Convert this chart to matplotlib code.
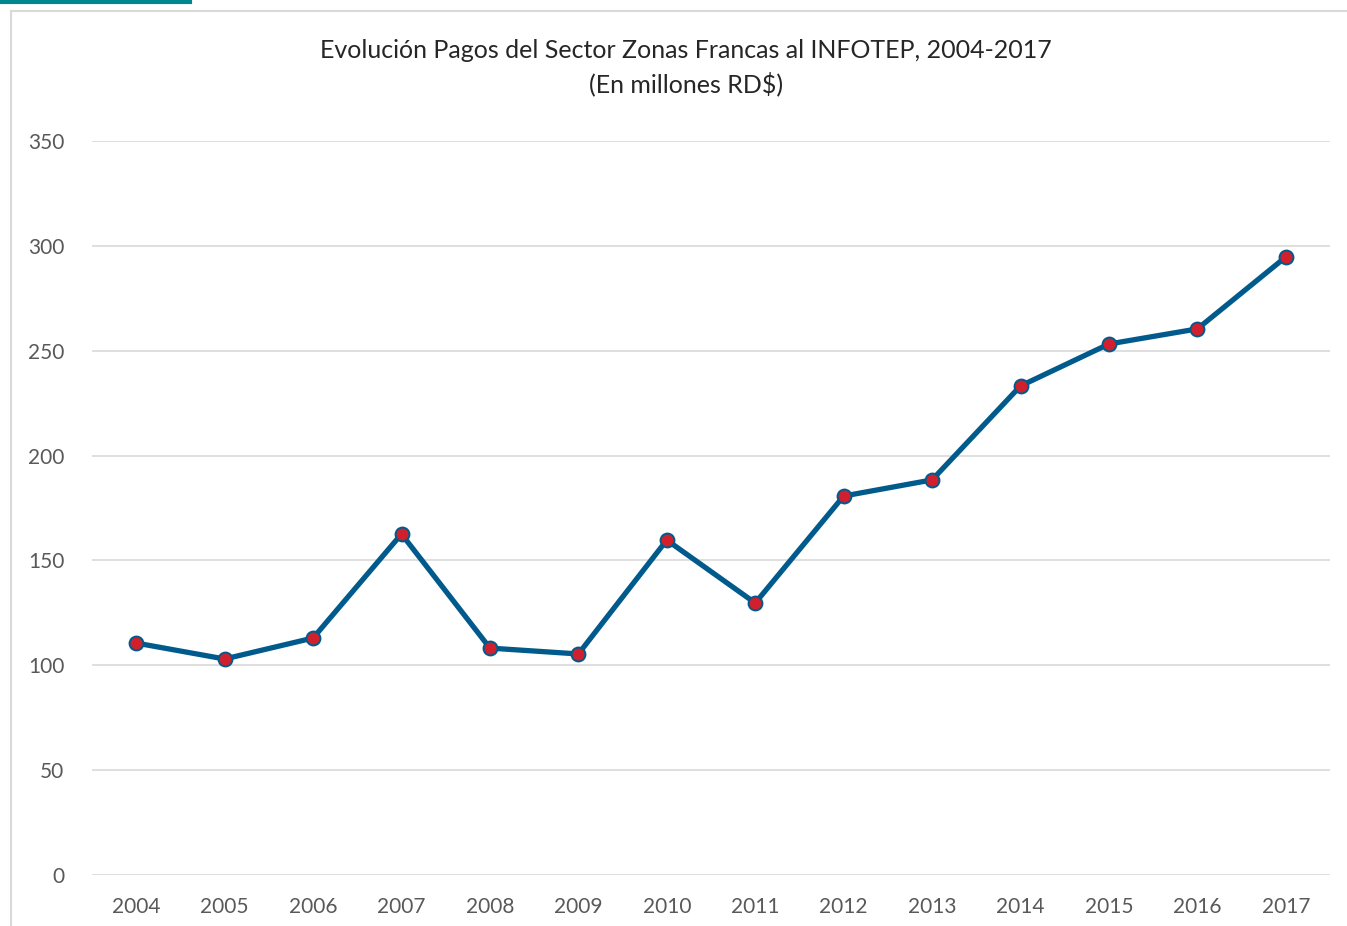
import matplotlib
matplotlib.use("Agg")
import matplotlib.pyplot as plt
from matplotlib.patches import Rectangle
from matplotlib.lines import Line2D

plt.rcParams["font.family"] = ["Lato", "DejaVu Sans"]

# ── data ──────────────────────────────────────────────────────────────────────
years = ["2004", "2005", "2006", "2007", "2008", "2009", "2010",
         "2011", "2012", "2013", "2014", "2015", "2016", "2017"]
pagos = [110.6, 103.0, 113.0, 162.6, 108.2, 105.4, 159.7,
         129.7, 180.7, 188.4, 233.2, 253.2, 260.4, 294.7]
yticks = [0, 50, 100, 150, 200, 250, 300, 350]

W, H = 1347, 926
fig = plt.figure(figsize=(W / 100, H / 100), dpi=100)

# chart frame + teal tab on top
fig.patches.append(Rectangle((11 / W, -0.1), 1.2, 1 - 11 / H + 0.1,
                             transform=fig.transFigure, fill=False,
                             edgecolor="#d9d9d9", linewidth=1.5))
fig.lines.append(Line2D([0, 190 / W], [1 - 1.5 / H, 1 - 1.5 / H],
                        transform=fig.transFigure, color="#00868f", linewidth=3))

ax = fig.add_axes([92 / W, 1 - 875 / H, (1330 - 92) / W, (875 - 141) / H])
x = list(range(len(years)))
ax.plot(x, pagos, color="#005b8c", linewidth=3.8, marker="o", markersize=10,
        markerfacecolor="#d0202e", markeredgecolor="#005b8c", markeredgewidth=1.4,
        zorder=3, clip_on=False)

ax.set_xlim(-0.5, len(years) - 0.5)
ax.set_ylim(0, 350)
ax.set_xticks(x)
ax.set_xticklabels(years)
ax.set_yticks(yticks)
ax.grid(axis="y", color="#d9d9d9", linewidth=1.2)
ax.set_axisbelow(True)
for s in ax.spines.values():
    s.set_visible(False)
ax.tick_params(length=0, labelsize=15, labelcolor="#595959")
ax.tick_params(axis="x", pad=16)
ax.tick_params(axis="y", pad=20)

cx = 686 / W
fig.text(cx, 1 - 50 / H, "Evolución Pagos del Sector Zonas Francas al INFOTEP, 2004-2017",
         ha="center", va="center", fontsize=18, color="#262626")
fig.text(cx, 1 - 84 / H, "(En millones RD$)",
         ha="center", va="center", fontsize=18, color="#262626")

fig.savefig("out.png", dpi=100)
